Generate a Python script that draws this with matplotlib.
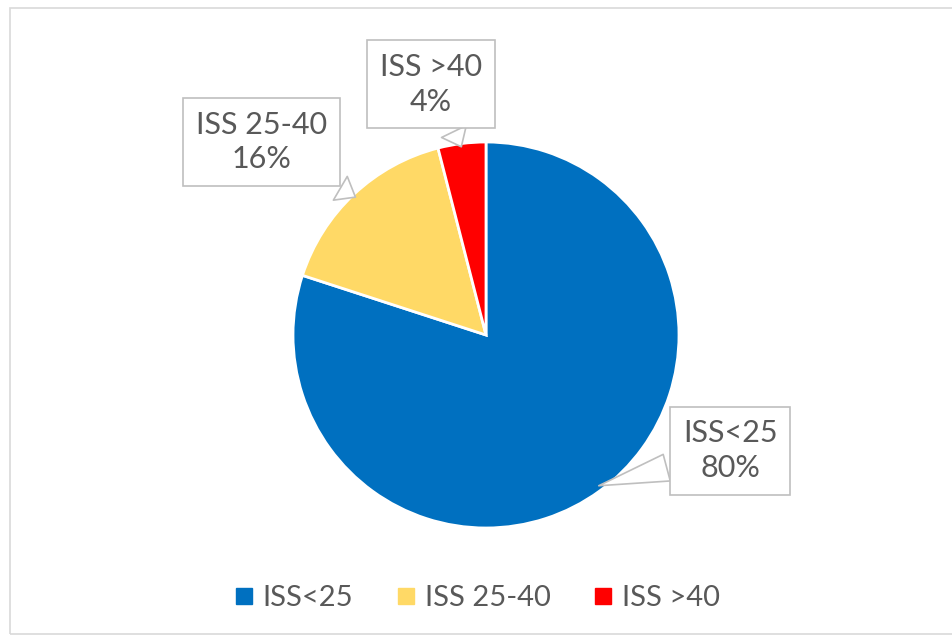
import numpy as np
import matplotlib.pyplot as plt
from matplotlib.patches import Rectangle

categories = ['ISS<25', 'ISS 25-40', 'ISS >40']
shares = [80, 16, 4]
colors = ['#0070C0', '#FFD966', '#FF0000']
label_pos = [(1.265, -0.60), (-1.165, 1.00), (-0.285, 1.30)]

plt.rcParams['font.family'] = ['Lato', 'DejaVu Sans']
text_color = '#595959'

fig = plt.figure(figsize=(9.53, 6.37), dpi=100)
# thin outer frame of the chart area
fig.patches.append(Rectangle((10 / 953, 3 / 637), 1.0, 626 / 637, transform=fig.transFigure,
                             fill=False, edgecolor='#d9d9d9', linewidth=1.2))

ax = fig.add_axes([(486 - 193) / 953, (637 - 528) / 637, 386 / 953, 386 / 637])
wedges, _ = ax.pie(shares, colors=colors, startangle=90, counterclock=False,
                   wedgeprops=dict(edgecolor='white', linewidth=2))
ax.set_xlim(-1, 1)
ax.set_ylim(-1, 1)
ax.set_aspect('equal')

# callout labels
for w, name, val, pos in zip(wedges, categories, shares, label_pos):
    ang = np.deg2rad((w.theta1 + w.theta2) / 2)
    target = (0.97 * np.cos(ang), 0.97 * np.sin(ang))
    ax.annotate(f'{name}\n{val}%', xy=target, xytext=pos, ha='center', va='center',
                fontsize=22, color=text_color, linespacing=1.3, annotation_clip=False,
                bbox=dict(boxstyle='square,pad=0.42', fc='white', ec='#bfbfbf', lw=1.2),
                arrowprops=dict(arrowstyle='wedge,tail_width=0.9,shrink_factor=0.5',
                                fc='white', ec='#bfbfbf', lw=1.2))

handles = [plt.Line2D([], [], marker='s', linestyle='', markersize=11, color=c) for c in colors]
fig.legend(handles, categories, loc='center', bbox_to_anchor=(0.498, 1 - 598 / 637),
           ncol=3, frameon=False, fontsize=21, labelcolor=text_color,
           handletextpad=0.15, columnspacing=1.3, handlelength=1.0)

fig.savefig('out.png', dpi=100)
